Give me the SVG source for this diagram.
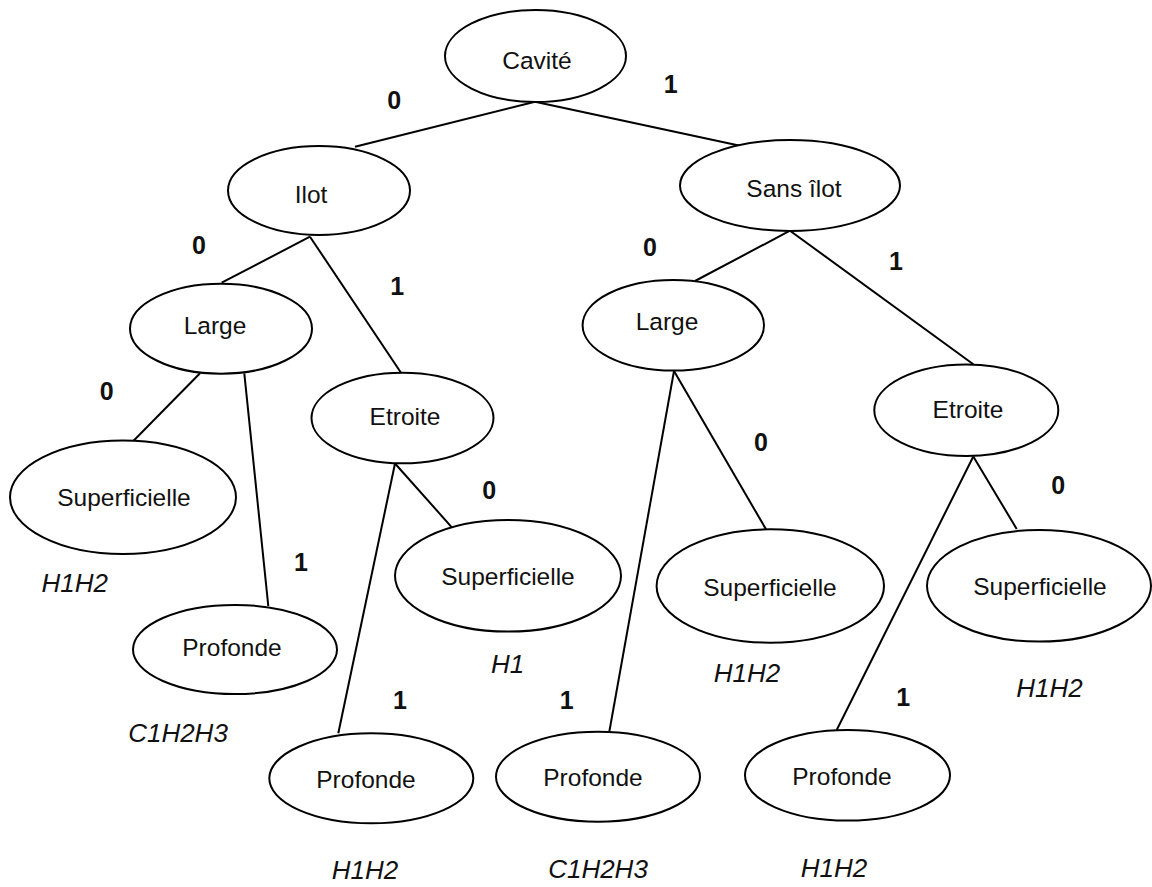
<svg xmlns="http://www.w3.org/2000/svg" width="1152" height="887" viewBox="0 0 1152 887">
  <style>
    .node ellipse { fill: #ffffff; stroke: #000000; stroke-width: 2; }
    .node text { font-family: "Liberation Sans", Arial, sans-serif; font-size: 24.5px; fill: #111111; text-anchor: middle; }
    .edges line { stroke: #000000; stroke-width: 2; }
    .bit { font-family: "Liberation Sans", Arial, sans-serif; font-size: 25px; font-weight: bold; fill: #111111; text-anchor: middle; }
    .code { font-family: "Liberation Sans", Arial, sans-serif; font-size: 26px; font-style: italic; fill: #111111; text-anchor: middle; }
  </style>
  <rect width="1152" height="887" fill="#ffffff"/>

  <!-- tree branches -->
  <g id="edges" class="edges">
    <line x1="535" y1="101.7" x2="355" y2="146.7"/>
    <line x1="535" y1="101.7" x2="740" y2="145.7"/>
    <line x1="310" y1="236.7" x2="221.7" y2="282.7"/>
    <line x1="310" y1="236.7" x2="401" y2="372.7"/>
    <line x1="790" y1="230.7" x2="695" y2="281"/>
    <line x1="790" y1="230.7" x2="973.3" y2="364.3"/>
    <line x1="200" y1="373.3" x2="133.3" y2="441"/>
    <line x1="244.3" y1="373.3" x2="268.3" y2="606"/>
    <line x1="395" y1="463.5" x2="452.7" y2="528.3"/>
    <line x1="395" y1="463.5" x2="338.3" y2="733.3"/>
    <line x1="674" y1="371" x2="766" y2="529.3"/>
    <line x1="674" y1="371" x2="609.3" y2="731.7"/>
    <line x1="973.3" y1="456.5" x2="1016.7" y2="529"/>
    <line x1="973.3" y1="456.5" x2="836.7" y2="730"/>
  </g>

  <!-- nodes -->
  <g id="cavite" class="node">
    <ellipse cx="535.5" cy="56" rx="90.5" ry="46"/>
    <text x="537" y="69">Cavité</text>
  </g>
  <g id="ilot" class="node">
    <ellipse cx="319" cy="190.5" rx="91" ry="44.5"/>
    <text x="311" y="203">Ilot</text>
  </g>
  <g id="sans-ilot" class="node">
    <ellipse cx="790" cy="185.5" rx="110" ry="45.5"/>
    <text x="794" y="197">Sans îlot</text>
  </g>
  <g id="large-ilot" class="node">
    <ellipse cx="221" cy="328.7" rx="91" ry="45"/>
    <text x="215" y="334">Large</text>
  </g>
  <g id="etroite-ilot" class="node">
    <ellipse cx="402.5" cy="418" rx="91" ry="45.3"/>
    <text x="405" y="425">Etroite</text>
  </g>
  <g id="large-sans" class="node">
    <ellipse cx="673.3" cy="325.3" rx="90.7" ry="45.3"/>
    <text x="667" y="330">Large</text>
  </g>
  <g id="etroite-sans" class="node">
    <ellipse cx="966.3" cy="410.2" rx="92" ry="45.8"/>
    <text x="968" y="418">Etroite</text>
  </g>
  <g id="superficielle-1" class="node">
    <ellipse cx="123" cy="497.3" rx="113" ry="56.7"/>
    <text x="124" y="506">Superficielle</text>
  </g>
  <g id="profonde-1" class="node">
    <ellipse cx="235" cy="649.5" rx="102" ry="44.5"/>
    <text x="232" y="656">Profonde</text>
  </g>
  <g id="superficielle-2" class="node">
    <ellipse cx="508" cy="575.8" rx="113" ry="55.8"/>
    <text x="508" y="585">Superficielle</text>
  </g>
  <g id="profonde-2" class="node">
    <ellipse cx="371.3" cy="778.3" rx="102" ry="45"/>
    <text x="366" y="788">Profonde</text>
  </g>
  <g id="superficielle-3" class="node">
    <ellipse cx="770.3" cy="586" rx="113.7" ry="56.7"/>
    <text x="770" y="596">Superficielle</text>
  </g>
  <g id="profonde-3" class="node">
    <ellipse cx="598" cy="776.7" rx="102" ry="45"/>
    <text x="593" y="786">Profonde</text>
  </g>
  <g id="superficielle-4" class="node">
    <ellipse cx="1039" cy="585.8" rx="112" ry="55.8"/>
    <text x="1040" y="595">Superficielle</text>
  </g>
  <g id="profonde-4" class="node">
    <ellipse cx="847.5" cy="775.3" rx="102.5" ry="45.3"/>
    <text x="842" y="785">Profonde</text>
  </g>

  <!-- branch values -->
  <g id="bits">
    <text class="bit" x="394.3" y="108.5">0</text>
    <text class="bit" x="670.7" y="93">1</text>
    <text class="bit" x="199" y="254">0</text>
    <text class="bit" x="397.3" y="295">1</text>
    <text class="bit" x="650" y="256">0</text>
    <text class="bit" x="896" y="270">1</text>
    <text class="bit" x="106.7" y="400">0</text>
    <text class="bit" x="301" y="571">1</text>
    <text class="bit" x="489.3" y="498.5">0</text>
    <text class="bit" x="400" y="709">1</text>
    <text class="bit" x="761" y="451">0</text>
    <text class="bit" x="566.7" y="709">1</text>
    <text class="bit" x="1058.3" y="494">0</text>
    <text class="bit" x="903.3" y="706">1</text>
  </g>

  <!-- leaf classes -->
  <g id="codes">
    <text class="code" x="74.7" y="591.7">H1H2</text>
    <text class="code" x="178" y="741.7">C1H2H3</text>
    <text class="code" x="507.5" y="673.3">H1</text>
    <text class="code" x="747" y="681.7">H1H2</text>
    <text class="code" x="1049.5" y="696.7">H1H2</text>
    <text class="code" x="365" y="879">H1H2</text>
    <text class="code" x="598" y="878">C1H2H3</text>
    <text class="code" x="834" y="877.3">H1H2</text>
  </g>
</svg>
